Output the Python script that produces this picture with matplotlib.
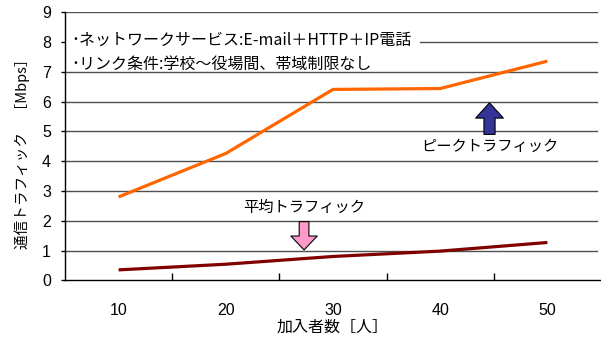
import matplotlib
matplotlib.use("Agg")
import matplotlib.pyplot as plt
import numpy as np

plt.rcParams['font.family'] = ['Noto Sans CJK JP', 'DejaVu Sans']

categories = ["10", "20", "30", "40", "50"]
peak_traffic = [2.8, 4.26, 6.41, 6.44, 7.36]
avg_traffic = [0.35, 0.54, 0.80, 0.98, 1.27]
y_ticks = [0, 1, 2, 3, 4, 5, 6, 7, 8, 9]

title_lines = ["･ネットワークサービス:E-mail＋HTTP＋IP電話",
               "･リンク条件:学校～役場間、帯域制限なし"]
ylabel = "通信トラフィック　［Mbps］"
xlabel = "加入者数［人］"
peak_label = "ピークトラフィック"
avg_label = "平均トラフィック"

W, H = 601, 342
fig = plt.figure(figsize=(W / 100, H / 100), dpi=100)
ax = fig.add_axes([65 / W, 1 - 280.3 / H, (601 - 65) / W, (280.3 - 12.3) / H])

x = np.arange(len(categories))
ax.set_xlim(-0.5, len(categories) - 0.5)
ax.set_ylim(0, 9)

# gridlines
for yv in y_ticks[1:]:
    xmin = 0.662 if yv == 8 else 0.0
    ax.axhline(yv, xmin=xmin, xmax=0.993, color='#505050', lw=1.0, zorder=1)

ax.plot(x, peak_traffic, color='#FF6600', lw=2.3, zorder=3, solid_capstyle='butt')
ax.plot(x, avg_traffic, color='#800000', lw=2.3, zorder=3, solid_capstyle='butt')

for s in ['top', 'right']:
    ax.spines[s].set_visible(False)
ax.spines['left'].set_color('black')
ax.spines['bottom'].set_color('black')
ax.spines['left'].set_linewidth(1.0)
ax.spines['bottom'].set_linewidth(1.0)

ax.set_yticks(y_ticks)
ax.set_yticklabels([str(v) for v in y_ticks], fontsize=11.5, family=['Liberation Sans', 'DejaVu Sans'])
ax.tick_params(axis='y', direction='out', length=3, pad=7, width=1)

ax.set_xticks(x)
ax.set_xticklabels(categories, fontsize=11.5, family=['Liberation Sans', 'DejaVu Sans'])
ax.tick_params(axis='x', which='major', length=0, pad=16)
ax.set_xticks(np.arange(0.5, len(categories) - 0.5, 1.0), minor=True)
ax.tick_params(axis='x', which='minor', direction='in', length=5, width=1)

fig.text(22 / W, 1 - 150 / H, ylabel, rotation=90, fontsize=10.5, ha='center', va='center')
fig.text(333 / W, 1 - 327 / H, xlabel, fontsize=11.5, ha='center', va='center')

ax.text(0.012, 0.895, title_lines[0], transform=ax.transAxes, fontsize=11.5, va='center', ha='left')
ax.text(0.012, 0.805, title_lines[1], transform=ax.transAxes, fontsize=11.5, va='center', ha='left')

# annotations
ax.text(3.46, 4.5, peak_label, fontsize=11, ha='center', va='center')
ax.annotate("", xy=(3.46, 5.96), xytext=(3.46, 4.9),
            arrowprops=dict(width=8, headwidth=20, headlength=11, shrink=0,
                            fc='#333399', ec='black', lw=0.8), zorder=4)
ax.text(1.73, 2.45, avg_label, fontsize=11, ha='center', va='center')
ax.annotate("", xy=(1.73, 1.02), xytext=(1.73, 1.97),
            arrowprops=dict(width=7, headwidth=19, headlength=10, shrink=0,
                            fc='#FF99CC', ec='black', lw=0.8), zorder=4)

fig.savefig("out.png", dpi=100)
